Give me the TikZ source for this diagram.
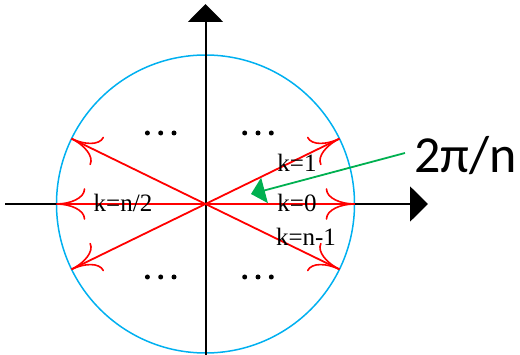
\documentclass[tikz,border=0pt]{standalone}
\usepackage{fontspec}
\setmainfont{Liberation Serif}
\newfontfamily\sansf{Carlito}
\usetikzlibrary{arrows.meta,calc}
\definecolor{cyanc}{RGB}{0,176,240}
\definecolor{greenc}{RGB}{0,176,80}
\begin{document}
\begin{tikzpicture}[x=1pt,y=-1pt,
  axis/.style={line width=2pt,-{Triangle[length=18pt,width=35pt]}},
  ray/.style={red,line width=1.8pt},
  barbs/.pic={
    \draw[red,line width=1.6pt,line cap=round] (-28,-15) .. controls (-28,-6) and (-14,0) .. (0,0)
      .. controls (-14,0) and (-28,6) .. (-28,15);
  },
  klabel/.style={font=\fontsize{25}{30}\selectfont,inner sep=0pt},
  dotc/.style={circle,fill=black,inner sep=0pt,minimum size=5pt}]
\useasboundingbox (0,0) rectangle (520,355);
\coordinate (O) at (205.5,204);
\node[circle,draw=cyanc,line width=1.5pt,minimum size=298pt,inner sep=0pt] (C) at (O) {};
% axes
\coordinate (xl) at (5,204);
\coordinate (xr) at (428,204);
\coordinate (yb) at (205.5,356);
\coordinate (yt) at (205.5,4);
\draw[axis] (xl) -- (xr);
\draw[axis] (yb) -- (yt);
% rays
\foreach \a/\n in {0/p0,-26/p1,26/p2,180/p3,154/p4,206/p5}{
  \coordinate (\n) at ($(O)+(\a:149)$);
  \draw[ray] (O) -- (\n);
  \pic[rotate=-\a] at (\n) {barbs};
}
% labels
\node[klabel] (k1) at (297,163) {k=1};
\node[klabel] (k0) at (297,203) {k=0};
\node[klabel] (kn1) at (306,237) {k=n-1};
\node[klabel] (kn2) at (123,203) {k=n/2};
% dots
\foreach \cx/\cy/\g in {160.7/133/a,258/133/b,160.7/277/c,258/277/d}{
  \node[dotc] (\g1) at (\cx-13.3,\cy) {};
  \node[dotc] (\g2) at (\cx,\cy) {};
  \node[dotc] (\g3) at (\cx+13.3,\cy) {};
}
% 2pi/n
\node[font=\sansf\fontsize{52}{60}\selectfont,anchor=west,inner sep=0pt] (ang) at (414,156) {2π/n};
\coordinate (gs) at (405,153);
\coordinate (gt) at (251,194);
\draw[greenc,line width=1.8pt,-{Triangle[length=14pt,width=26pt]}] (gs) -- (gt);
\end{tikzpicture}
\end{document}
